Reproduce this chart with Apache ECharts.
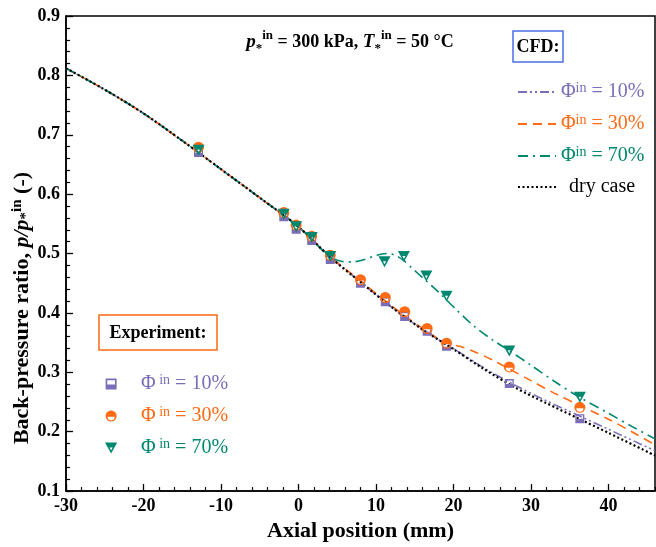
<!DOCTYPE html>
<html><head><meta charset="utf-8">
<script src="https://cdn.jsdelivr.net/npm/echarts@6/dist/echarts.min.js"></script>
<style>html,body{margin:0;padding:0;background:#fff}#c{width:656px;height:547px}</style>
</head><body><div id="c"></div>
<script>
// ---- data ----
const xMajorTicks = [-30, -20, -10, 0, 10, 20, 30, 40];
const xMinorTicks = [-28,-26,-24,-22,-18,-16,-14,-12,-8,-6,-4,-2,2,4,6,8,12,14,16,18,22,24,26,28,32,34,36,38,42,44,46];

const dryX = [-30,-25,-20,-15,-10,-5,0,4,8,12,16,20,24,28,32,36,40,46];
const dryY = [0.812,0.776,0.736,0.690,0.642,0.594,0.545,0.495,0.452,0.410,0.372,0.339,0.305,0.274,0.248,0.223,0.198,0.160];

const cfd10X = [-30,-25,-20,-15,-10,-5,0,4,8,12,16,20,24,28,32,36,40,46];
const cfd10Y = [0.812,0.776,0.736,0.690,0.642,0.594,0.545,0.495,0.452,0.410,0.372,0.340,0.307,0.278,0.252,0.228,0.204,0.168];

const cfd30X = [-30,-25,-20,-15,-10,-5,0,4,8,12,16,19,21,23,25,27,30,33,36,40,43,46];
const cfd30Y = [0.812,0.776,0.736,0.690,0.642,0.594,0.545,0.496,0.454,0.412,0.374,0.350,0.343,0.333,0.321,0.307,0.286,0.265,0.246,0.221,0.200,0.178];

const cfd70X = [-30,-25,-20,-15,-10,-5,0,4,5.5,7,8.5,10,11.5,12.5,13.5,14.6,16.3,18,20.4,22.8,25,27,30,33,36,40,43,46];
const cfd70Y = [0.812,0.776,0.736,0.690,0.642,0.594,0.545,0.495,0.487,0.486,0.490,0.497,0.500,0.497,0.489,0.476,0.456,0.436,0.405,0.376,0.355,0.338,0.312,0.285,0.260,0.231,0.209,0.188];

const expX = [-12.9,-1.9,-0.3,1.7,4.1,8.0,11.2,13.7,16.6,19.1,27.2,36.3];
const exp10Y = [0.670,0.562,0.541,0.522,0.490,0.450,0.419,0.394,0.369,0.344,0.281,0.222];
const exp30Y = [0.679,0.569,0.548,0.529,0.497,0.456,0.426,0.402,0.374,0.349,0.309,0.241];
const exp70X = [-12.9,-1.9,-0.3,1.7,4.1,11.1,13.6,16.5,19.1,27.2,36.3];
const exp70Y = [0.674,0.566,0.545,0.527,0.495,0.486,0.495,0.462,0.428,0.336,0.258];

// ---- style ----
const F = 'Liberation Serif';
const C10 = '#7b6db8', C30 = '#ff6a14', C70 = '#00876f';
const zip = (xs, ys) => xs.map((x, i) => [x, ys[i]]);

const SQ = 'path://M0 0H20V20H0Z M3 3V11H17V3Z';
const CI = 'path://M10 0A10 10 0 1 1 10 20A10 10 0 1 1 10 0Z M16.5 11.5L3.5 11.5A6.5 6.5 0 0 0 16.5 11.5Z';
const TR = 'path://M0 0H20L10 18Z M12.6 8L7.4 8L10 12.8Z';

const legendRich = {
  t: {fontFamily: F, fontSize: 20, lineHeight: 22, verticalAlign: 'middle'},
  s: {fontFamily: F, fontSize: 14, lineHeight: 22, verticalAlign: 'top'},
  d: {fontFamily: F, fontSize: 20, lineHeight: 22, color: '#000', padding: [0, 0, 0, 8]},
  e: {fontFamily: F, fontSize: 20, lineHeight: 22, verticalAlign: 'middle', padding: [0, 0, 0, 6]}
};
const labels = {
  'CFD10': '{t|Φ}{s|in}{t| = 10%}', 'CFD30': '{t|Φ}{s|in}{t| = 30%}', 'CFD70': '{t|Φ}{s|in}{t| = 70%}',
  'Dry': '{d|dry case}',
  'EXP10': '{e|Φ}{s| in}{t| = 10%}', 'EXP30': '{e|Φ}{s| in}{t| = 30%}', 'EXP70': '{e|Φ}{s| in}{t| = 70%}'
};

const lineSeries = (name, data, color, type, width, z) => ({
  name, type: 'line', data, symbol: 'none', showSymbol: false, smooth: 0.3, z,
  lineStyle: {color, width, type}, itemStyle: {color}
});
const scatterSeries = (name, data, color, symbol, size) => ({
  name, type: 'scatter', data, symbol, symbolSize: size, z: 5,
  itemStyle: {color, opacity: 1}
});

const chart = echarts.init(document.getElementById('c'), null, {renderer: 'canvas'});
chart.setOption({
  animation: false,
  backgroundColor: '#fff',
  grid: {left: 66, right: 1, top: 16, bottom: 53, show: true, borderColor: '#000', borderWidth: 1.5, backgroundColor: 'transparent'},
  xAxis: [{
    type: 'value', min: -30, max: 46, position: 'bottom',
    axisLine: {show: true, onZero: false, lineStyle: {color: '#000', width: 1.5}},
    axisTick: {show: true, inside: true, length: 7, lineStyle: {color: '#000', width: 1.3}, customValues: xMajorTicks},
    axisLabel: {customValues: xMajorTicks, fontFamily: F, fontWeight: 'bold', fontSize: 18, color: '#000', margin: 6},
    splitLine: {show: false},
    name: 'Axial position (mm)', nameLocation: 'middle', nameGap: 26,
    nameTextStyle: {fontFamily: F, fontWeight: 'bold', fontSize: 22, color: '#000'}
  }, {
    type: 'value', min: -30, max: 46, position: 'bottom', gridIndex: 0,
    axisLine: {show: false},
    axisTick: {show: true, inside: true, length: 4, lineStyle: {color: '#000', width: 1.2}, customValues: xMinorTicks},
    axisLabel: {show: false}, splitLine: {show: false}
  }],
  yAxis: [{
    type: 'value', min: 0.1, max: 0.9, interval: 0.1,
    axisLine: {show: true, onZero: false, lineStyle: {color: '#000', width: 1.5}},
    axisTick: {show: true, inside: true, length: 7, lineStyle: {color: '#000', width: 1.3}},
    minorTick: {show: true, splitNumber: 5, length: 4, lineStyle: {color: '#000', width: 1.2}},
    axisLabel: {fontFamily: F, fontWeight: 'bold', fontSize: 18, color: '#000', margin: 6, formatter: v => v.toFixed(1)},
    splitLine: {show: false}
  }],
  legend: [{
    data: [{name: 'CFD10', textStyle: {color: C10}}, {name: 'CFD30', textStyle: {color: C30}},
           {name: 'CFD70', textStyle: {color: C70}}, {name: 'Dry', textStyle: {color: '#000'}}],
    orient: 'vertical', left: 512, top: 76, itemWidth: 38, itemHeight: 14, itemGap: 11,
    itemStyle: {opacity: 0},
    selectedMode: false, formatter: n => labels[n],
    textStyle: {fontFamily: F, fontSize: 20, rich: legendRich}
  }, {
    data: [{name: 'EXP10', textStyle: {color: C10}}, {name: 'EXP30', textStyle: {color: C30}},
           {name: 'EXP70', textStyle: {color: C70}}],
    orient: 'vertical', left: 100, top: 368, itemWidth: 38, itemHeight: 11, itemGap: 11,
    selectedMode: false, formatter: n => labels[n],
    textStyle: {fontFamily: F, fontSize: 20, rich: legendRich}
  }],
  graphic: [
    {type: 'rect', shape: {x: 513, y: 31, width: 50, height: 31}, style: {fill: '#fff', stroke: '#4a6fe3', lineWidth: 1.5}, z: 10},
    {type: 'text', x: 538, y: 47, z: 11, style: {text: 'CFD:', fontFamily: F, fontWeight: 'bold', fontSize: 18, fill: '#000', align: 'center', verticalAlign: 'middle'}},
    {type: 'rect', shape: {x: 99, y: 315, width: 118, height: 35}, style: {fill: '#fff', stroke: '#ff6a14', lineWidth: 1.5}, z: 10},
    {type: 'text', x: 158, y: 333, z: 11, style: {text: 'Experiment:', fontFamily: F, fontWeight: 'bold', fontSize: 18, fill: '#000', align: 'center', verticalAlign: 'middle'}},
    {type: 'text', x: 350, y: 42, z: 11, style: {
      text: '{i|p}{b|*}{u|in}{m| = 300 kPa, }{i|T}{b|*}{u|in}{m| = 50 °C}',
      align: 'center', verticalAlign: 'middle', fill: '#000',
      rich: {
        i: {fontFamily: F, fontWeight: 'bold', fontStyle: 'italic', fontSize: 19, lineHeight: 26, verticalAlign: 'middle'},
        m: {fontFamily: F, fontWeight: 'bold', fontSize: 18, lineHeight: 26, verticalAlign: 'middle'},
        u: {fontFamily: F, fontWeight: 'bold', fontSize: 13, lineHeight: 13, verticalAlign: 'top'},
        b: {fontFamily: F, fontWeight: 'bold', fontSize: 13, lineHeight: 13, verticalAlign: 'bottom'}
      }}},
    {type: 'text', x: 22, y: 308, rotation: Math.PI / 2, z: 11, style: {
      text: '{m|Back-pressure ratio, }{i|p/p}{b|*}{u|in}{m| (-)}',
      align: 'center', verticalAlign: 'middle', fill: '#000',
      rich: {
        i: {fontFamily: F, fontWeight: 'bold', fontStyle: 'italic', fontSize: 22, lineHeight: 24, verticalAlign: 'middle'},
        m: {fontFamily: F, fontWeight: 'bold', fontSize: 22, lineHeight: 24, verticalAlign: 'middle'},
        u: {fontFamily: F, fontWeight: 'bold', fontSize: 15, lineHeight: 15, verticalAlign: 'top'},
        b: {fontFamily: F, fontWeight: 'bold', fontSize: 15, lineHeight: 15, verticalAlign: 'bottom'}
      }}}
  ],
  series: [
    lineSeries('CFD10', zip(cfd10X, cfd10Y), C10, [9, 3, 2, 3, 2, 3], 1.6, 2),
    lineSeries('CFD30', zip(cfd30X, cfd30Y), C30, [9, 6], 1.6, 2),
    lineSeries('CFD70', zip(cfd70X, cfd70Y), C70, [10, 5, 2, 5], 1.6, 2),
    lineSeries('Dry', zip(dryX, dryY), '#000', [2, 2.5], 2.2, 3),
    scatterSeries('EXP10', zip(expX, exp10Y), C10, SQ, [9, 9]),
    scatterSeries('EXP30', zip(expX, exp30Y), C30, CI, [11, 11]),
    scatterSeries('EXP70', zip(exp70X, exp70Y), C70, TR, [12, 11])
  ]
});
</script>
</body></html>
